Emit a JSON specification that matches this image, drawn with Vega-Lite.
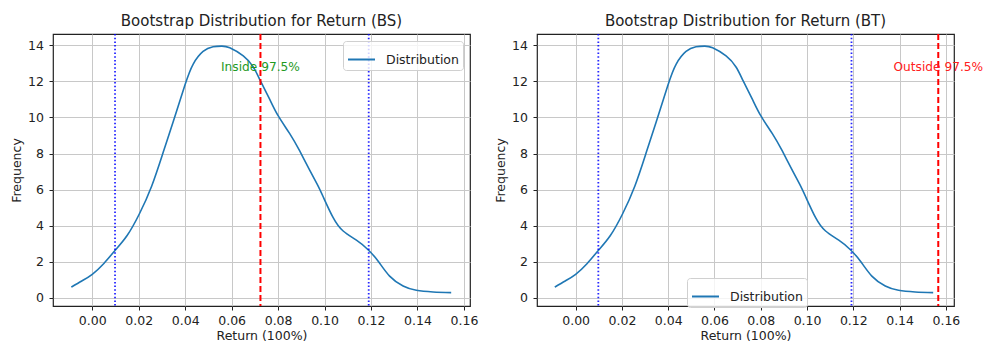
{
  "$schema": "https://vega.github.io/schema/vega-lite/v6.json",
  "padding": {"left": 9, "top": 13, "right": 0, "bottom": 0},
  "background": "white",
  "datasets": {
    "curve": [
      {"ret": -0.009, "freq": 0.59}, {"ret": -0.0045, "freq": 0.93}, {"ret": 0.0, "freq": 1.3},
      {"ret": 0.005, "freq": 1.9}, {"ret": 0.0098, "freq": 2.62}, {"ret": 0.015, "freq": 3.45},
      {"ret": 0.0202, "freq": 4.63}, {"ret": 0.0256, "freq": 6.2}, {"ret": 0.0305, "freq": 8.05},
      {"ret": 0.0348, "freq": 9.75}, {"ret": 0.0399, "freq": 11.8}, {"ret": 0.0434, "freq": 12.95},
      {"ret": 0.0477, "freq": 13.66}, {"ret": 0.052, "freq": 13.92}, {"ret": 0.0557, "freq": 13.96},
      {"ret": 0.0592, "freq": 13.87}, {"ret": 0.065, "freq": 13.41}, {"ret": 0.0693, "freq": 12.8},
      {"ret": 0.0724, "freq": 12.03}, {"ret": 0.0764, "freq": 11.0}, {"ret": 0.08, "freq": 10.1},
      {"ret": 0.085, "freq": 9.1}, {"ret": 0.0893, "freq": 8.14}, {"ret": 0.0937, "freq": 7.05},
      {"ret": 0.0968, "freq": 6.3}, {"ret": 0.0994, "freq": 5.6}, {"ret": 0.1037, "freq": 4.44},
      {"ret": 0.108, "freq": 3.7}, {"ret": 0.1137, "freq": 3.19}, {"ret": 0.1185, "freq": 2.69},
      {"ret": 0.123, "freq": 2.04}, {"ret": 0.128, "freq": 1.2}, {"ret": 0.1338, "freq": 0.65},
      {"ret": 0.1395, "freq": 0.41}, {"ret": 0.1467, "freq": 0.32}, {"ret": 0.1545, "freq": 0.28}
    ],
    "bounds": [
      {"panel": "BS", "kind": "ci", "ret": 0.0098},
      {"panel": "BS", "kind": "ci", "ret": 0.119},
      {"panel": "BS", "kind": "observed", "ret": 0.0724},
      {"panel": "BT", "kind": "ci", "ret": 0.0098},
      {"panel": "BT", "kind": "ci", "ret": 0.1192},
      {"panel": "BT", "kind": "observed", "ret": 0.1567}
    ],
    "notes": [
      {"panel": "BS", "ret": 0.0724, "freq": 12.55, "label": "Inside 97.5%"},
      {"panel": "BT", "ret": 0.1567, "freq": 12.55, "label": "Outside 97.5%"}
    ]
  },
  "hconcat": [
    {
      "title": "Bootstrap Distribution for Return (BS)",
      "width": 417,
      "height": 272,
      "layer": [
        {
          "data": {"name": "curve"},
          "mark": {"type": "line", "interpolate": "natural", "strokeWidth": 1.6},
          "encoding": {
            "x": {"field": "ret", "type": "quantitative", "scale": {"domain": [-0.0169, 0.1626], "nice": false, "zero": false}, "axis": {"title": "Return (100%)", "values": [0, 0.02, 0.04, 0.06, 0.08, 0.1, 0.12, 0.14, 0.16], "format": ".2f", "labelOverlap": false}},
            "y": {"field": "freq", "type": "quantitative", "scale": {"domain": [-0.46, 14.63], "nice": false, "zero": false}, "axis": {"title": "Frequency", "values": [0, 2, 4, 6, 8, 10, 12, 14], "labelOverlap": false}},
            "color": {"datum": "Distribution", "scale": {"range": ["#1f77b4"]}, "legend": {"orient": "top-right", "offset": 7}}
          }
        },
        {
          "data": {"name": "bounds"},
          "transform": [{"filter": "datum.panel === 'BS' && datum.kind === 'ci'"}],
          "mark": {"type": "rule", "color": "blue", "strokeDash": [1.5, 2.2], "strokeWidth": 1.8, "opacity": 0.85},
          "encoding": {"x": {"field": "ret", "type": "quantitative", "axis": {"title": "Return (100%)", "values": [0, 0.02, 0.04, 0.06, 0.08, 0.1, 0.12, 0.14, 0.16], "format": ".2f", "labelOverlap": false}}}
        },
        {
          "data": {"name": "bounds"},
          "transform": [{"filter": "datum.panel === 'BS' && datum.kind === 'observed'"}],
          "mark": {"type": "rule", "color": "red", "strokeDash": [6, 3], "strokeWidth": 2},
          "encoding": {"x": {"field": "ret", "type": "quantitative", "axis": {"title": "Return (100%)", "values": [0, 0.02, 0.04, 0.06, 0.08, 0.1, 0.12, 0.14, 0.16], "format": ".2f", "labelOverlap": false}}}
        },
        {
          "data": {"name": "notes"},
          "transform": [{"filter": "datum.panel === 'BS'"}],
          "mark": {"type": "text", "color": "#1f9a1f", "align": "center", "baseline": "alphabetic", "fontSize": 12.2},
          "encoding": {
            "x": {"field": "ret", "type": "quantitative", "axis": {"title": "Return (100%)", "values": [0, 0.02, 0.04, 0.06, 0.08, 0.1, 0.12, 0.14, 0.16], "format": ".2f", "labelOverlap": false}},
            "y": {"field": "freq", "type": "quantitative", "axis": {"title": "Frequency", "values": [0, 2, 4, 6, 8, 10, 12, 14], "labelOverlap": false}},
            "text": {"field": "label"}
          }
        }
      ]
    },
    {
      "title": "Bootstrap Distribution for Return (BT)",
      "width": 417,
      "height": 272,
      "layer": [
        {
          "data": {"name": "curve"},
          "mark": {"type": "line", "interpolate": "natural", "strokeWidth": 1.6},
          "encoding": {
            "x": {"field": "ret", "type": "quantitative", "scale": {"domain": [-0.0167, 0.1635], "nice": false, "zero": false}, "axis": {"title": "Return (100%)", "values": [0, 0.02, 0.04, 0.06, 0.08, 0.1, 0.12, 0.14, 0.16], "format": ".2f", "labelOverlap": false}},
            "y": {"field": "freq", "type": "quantitative", "scale": {"domain": [-0.46, 14.63], "nice": false, "zero": false}, "axis": {"title": "Frequency", "values": [0, 2, 4, 6, 8, 10, 12, 14], "labelOverlap": false}},
            "color": {"datum": "Distribution", "scale": {"range": ["#1f77b4"]}, "legend": {"orient": "none", "legendX": 150, "legendY": 244}}
          }
        },
        {
          "data": {"name": "bounds"},
          "transform": [{"filter": "datum.panel === 'BT' && datum.kind === 'ci'"}],
          "mark": {"type": "rule", "color": "blue", "strokeDash": [1.5, 2.2], "strokeWidth": 1.8, "opacity": 0.85},
          "encoding": {"x": {"field": "ret", "type": "quantitative", "axis": {"title": "Return (100%)", "values": [0, 0.02, 0.04, 0.06, 0.08, 0.1, 0.12, 0.14, 0.16], "format": ".2f", "labelOverlap": false}}}
        },
        {
          "data": {"name": "bounds"},
          "transform": [{"filter": "datum.panel === 'BT' && datum.kind === 'observed'"}],
          "mark": {"type": "rule", "color": "red", "strokeDash": [6, 3], "strokeWidth": 2},
          "encoding": {"x": {"field": "ret", "type": "quantitative", "axis": {"title": "Return (100%)", "values": [0, 0.02, 0.04, 0.06, 0.08, 0.1, 0.12, 0.14, 0.16], "format": ".2f", "labelOverlap": false}}}
        },
        {
          "data": {"name": "notes"},
          "transform": [{"filter": "datum.panel === 'BT'"}],
          "mark": {"type": "text", "color": "#ff2020", "align": "center", "baseline": "alphabetic", "fontSize": 12.2},
          "encoding": {
            "x": {"field": "ret", "type": "quantitative", "axis": {"title": "Return (100%)", "values": [0, 0.02, 0.04, 0.06, 0.08, 0.1, 0.12, 0.14, 0.16], "format": ".2f", "labelOverlap": false}},
            "y": {"field": "freq", "type": "quantitative", "axis": {"title": "Frequency", "values": [0, 2, 4, 6, 8, 10, 12, 14], "labelOverlap": false}},
            "text": {"field": "label"}
          }
        }
      ]
    }
  ],
  "spacing": 67,
  "bounds": "flush",
  "resolve": {"scale": {"color": "independent", "x": "independent", "y": "independent"}, "legend": {"color": "independent"}},
  "config": {
    "font": "DejaVu Sans",
    "view": {"stroke": "#222", "strokeWidth": 1.2},
    "title": {"fontSize": 15, "fontWeight": "normal", "color": "#222", "anchor": "middle", "offset": 4},
    "axis": {
      "domain": false,
      "grid": true,
      "gridColor": "#c8c8c8",
      "gridWidth": 1,
      "tickSize": 4,
      "tickColor": "#222",
      "labelFontSize": 12.5,
      "labelColor": "#222",
      "titleFontSize": 12.5,
      "titleFontWeight": "normal",
      "titleColor": "#222",
      "labelFlush": false,
      "labelOverlap": false
    },
    "axisX": {"labelPadding": 4, "titlePadding": 3},
    "axisY": {"labelPadding": 5.5, "titlePadding": 4, "labelOverlap": false},
    "legend": {
      "title": null,
      "symbolType": "stroke",
      "symbolStrokeWidth": 2,
      "symbolSize": 729,
      "labelFontSize": 12.5,
      "labelColor": "#222",
      "labelOffset": 10,
      "fillColor": "rgba(255,255,255,0.8)",
      "strokeColor": "#d0d0d0",
      "padding": 4,
      "cornerRadius": 3
    }
  }
}
